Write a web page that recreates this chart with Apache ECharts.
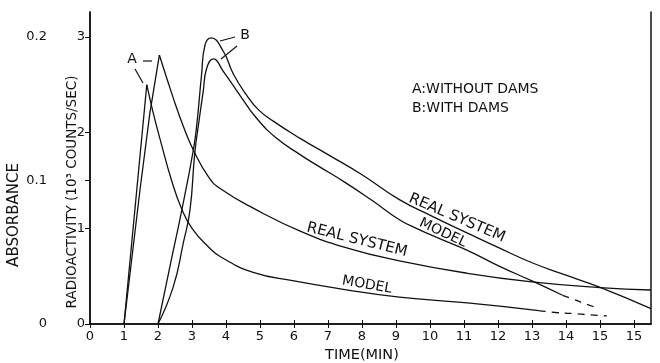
<!DOCTYPE html>
<html>
<head>
<meta charset="utf-8">
<script src="https://cdn.jsdelivr.net/npm/echarts@6/dist/echarts.min.js"></script>
<style>
html,body{margin:0;padding:0;background:#fff;}
#chart{width:660px;height:363px;}
</style>
</head>
<body>
<div id="chart"></div>
<script>
// tick values and labels
var xTicks = [0,1,2,3,4,5,6,7,8,9,10,11,12,13,14,15,16];
var xTickLabels = ['0','1','2','3','4','5','6','7','8','9','10','11','12','13','14','15','15'];
var radioTicks = [0,1,2,3];
var absTicks = [0,0.1,0.2];

// A: without dams  [time, radioactivity]
var aReal = [[1,0],[1.47,1.4],[1.76,2.2],[2.04,2.81],[2.45,2.36],[2.75,2.06],[3.05,1.81],[3.5,1.53],[3.85,1.41],[4.8,1.21],[6.25,0.96],[7.6,0.79],[9.1,0.66],[11.1,0.53],[13.0,0.44],[15.0,0.38],[16.5,0.355]];
var aModel = [[1,0],[1.67,2.5],[1.85,2.22],[2.1,1.88],[2.4,1.5],[2.7,1.2],[3.0,1.0],[3.5,0.8],[3.85,0.7],[4.8,0.54],[6.0,0.45],[7.5,0.36],[9.1,0.28],[11.1,0.22],[13.2,0.14]];
var aModelTail = [[13.2,0.14],[13.7,0.12],[14.2,0.11],[14.7,0.095],[15.2,0.085]];

// B: with dams
var bReal = [[2,0],[2.35,0.6],[2.7,1.19],[3.04,1.82],[3.14,2.08],[3.28,2.6],[3.38,2.91],[3.56,2.99],[3.92,2.85],[4.22,2.61],[4.61,2.39],[4.95,2.24],[5.39,2.12],[6.18,1.94],[7.0,1.77],[8.0,1.56],[9.1,1.3],[10.1,1.12],[11.1,0.95],[12.0,0.8],[13.0,0.64],[14.0,0.51],[14.95,0.39],[16.5,0.16]];
var bModel = [[2,0],[2.45,0.39],[2.74,0.84],[2.94,1.19],[3.08,1.78],[3.19,2.08],[3.33,2.43],[3.43,2.67],[3.63,2.77],[3.92,2.64],[4.41,2.39],[4.9,2.15],[5.49,1.94],[6.18,1.77],[6.67,1.66],[7.5,1.48],[8.3,1.29],[9.1,1.09],[9.6,1.0],[10.3,0.89],[11.1,0.77],[12.0,0.61],[13.0,0.45],[13.9,0.3]];
var bModelTail = [[13.9,0.3],[14.2,0.26],[14.5,0.22],[14.9,0.17]];

var radioMax = 3.26;
var ink = '#111';
var font = 'DejaVu Sans';

function line(data, smooth, dashed) {
	return {
		type : 'line',
		data : data,
		smooth : smooth,
		symbol : 'none',
		silent : true,
		animation : false,
		lineStyle : {
			color : ink,
			width : 1.3,
			type : dashed ? [7, 6] : 'solid'
		}
	};
}

// sharp peak: straight rise, smooth decay
function peaked(data) {
	var p = 0;
	for (var i = 0; i < data.length; i++) {
		if (data[i][1] > data[p][1]) p = i;
	}
	return [line(data.slice(0, p + 1), false), line(data.slice(p), 0.5)];
}

function txt(x, y, s, size, rot, align) {
	return {
		type : 'text',
		x : x,
		y : y,
		rotation : rot || 0,
		silent : true,
		style : {
			text : s,
			fill : ink,
			font : size + 'px "' + font + '"',
			textAlign : align || 'center',
			textVerticalAlign : 'middle'
		}
	};
}

function seg(x1, y1, x2, y2) {
	return {
		type : 'line',
		silent : true,
		shape : {x1 : x1, y1 : y1, x2 : x2, y2 : y2},
		style : {stroke : ink, lineWidth : 1.2}
	};
}

var deg = Math.PI / 180;
var axisLine = {show : true, lineStyle : {color : ink, width : 1.5}};
var label = {color : ink, fontSize : 13, fontFamily : font};

var series = [].concat(
	peaked(aReal),
	peaked(aModel),
	[line(aModelTail, 0.5, true)],
	[line(bReal, 0.5)],
	[line(bModel, 0.5)],
	[line(bModelTail, 0.5, true)]
);

var chart = echarts.init(document.getElementById('chart'), null, {renderer : 'canvas'});
var option = {
	animation : false,
	grid : {left : 90, right : 9, top : 12, bottom : 39},
	xAxis : [ {
		type : 'value',
		position : 'bottom',
		min : 0,
		max : 16.5,
		axisLine : axisLine,
		axisTick : {inside : true, length : 4, customValues : xTicks, lineStyle : {color : ink}},
		axisLabel : Object.assign({}, label, {
			margin : 6,
			customValues : xTicks,
			formatter : function(v) {
				return xTickLabels[xTicks.indexOf(v)];
			}
		}),
		splitLine : {show : false}
	}, {
		type : 'value',
		position : 'top',
		min : 0,
		max : 16.5,
		axisLine : axisLine,
		axisTick : {inside : true, length : 4, customValues : xTicks, lineStyle : {color : ink}},
		axisLabel : {show : false},
		splitLine : {show : false}
	} ],
	yAxis : [ {
		type : 'value',
		position : 'left',
		min : 0,
		max : radioMax,
		axisLine : axisLine,
		axisTick : {length : 5, customValues : radioTicks, lineStyle : {color : ink}},
		axisLabel : Object.assign({}, label, {margin : 5, customValues : radioTicks}),
		splitLine : {show : false}
	}, {
		type : 'value',
		position : 'left',
		offset : 38,
		min : 0,
		max : 0.2 * radioMax / 3,
		axisLine : axisLine,
		axisTick : {length : 5, customValues : absTicks, lineStyle : {color : ink}},
		axisLabel : Object.assign({}, label, {
			margin : 5,
			customValues : absTicks,
			formatter : function(v) {
				return v === 0 ? '0' : v.toFixed(1);
			}
		}),
		splitLine : {show : false}
	}, {
		type : 'value',
		position : 'right',
		min : 0,
		max : radioMax,
		axisLine : axisLine,
		axisTick : {show : false},
		axisLabel : {show : false},
		splitLine : {show : false}
	} ],
	graphic : [
		txt(14, 215, 'ABSORBANCE', 15, Math.PI / 2),
		txt(72, 192, 'RADIOACTIVITY (10\u00b3 COUNTS/SEC)', 13.5, Math.PI / 2),
		txt(362, 355, 'TIME(MIN)', 14.5),
		txt(412, 89, 'A:WITHOUT DAMS', 14, 0, 'left'),
		txt(412, 108, 'B:WITH DAMS', 14, 0, 'left'),
		txt(457, 218, 'REAL SYSTEM', 15, -23 * deg),
		txt(443, 233, 'MODEL', 14, -25 * deg),
		txt(357, 240, 'REAL SYSTEM', 15, -14 * deg),
		txt(367, 285, 'MODEL', 14, -10 * deg),
		txt(132, 59, 'A', 14),
		seg(143, 61, 152, 61),
		seg(135, 69, 143, 83),
		txt(245, 35, 'B', 14),
		seg(220, 41, 235, 37),
		seg(221, 59, 237, 46)
	],
	series : series
};
chart.setOption(option);
</script>
</body>
</html>
